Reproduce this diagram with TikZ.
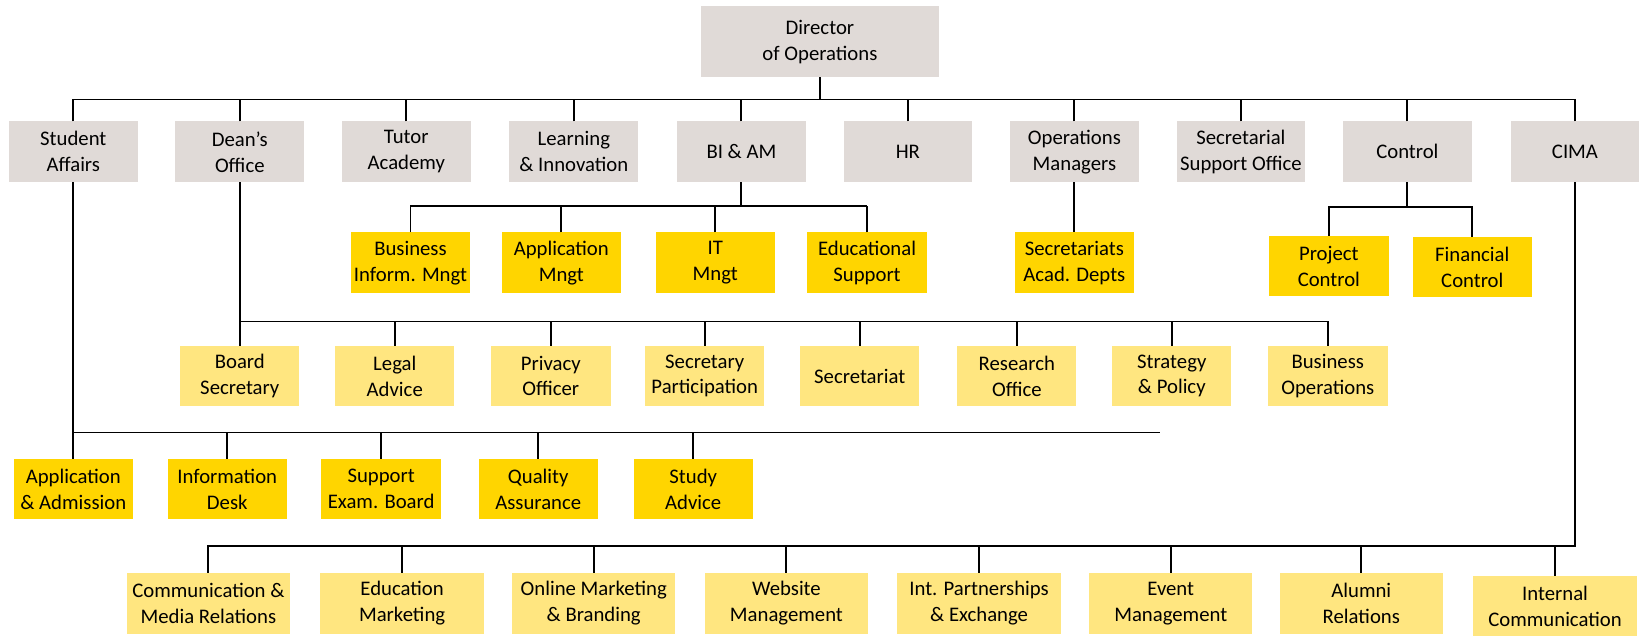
\documentclass[tikz,border=0pt]{standalone}
\usepackage{fontspec}
\setmainfont{Carlito}
\usetikzlibrary{positioning}
\usetikzlibrary{calc}
\definecolor{unitgray}{HTML}{E0DAD7}
\definecolor{deptyellow}{HTML}{FFD500}
\definecolor{teamyellow}{HTML}{FFE680}
\newcommand{\unitW}{61.5pt}
\newcommand{\unitH}{29pt}
\newcommand{\deptW}{57pt}
\newcommand{\commW}{78pt}
\tikzset{unit/.style={
		rectangle,
		fill=unitgray,
		inner sep = 0pt,
		outer sep = 0pt,
		minimum width=\unitW,
		minimum height=\unitH,
		align=center,
		font=\fontsize{9.9}{12.4}\selectfont,
	}
}
\tikzset{dept/.style={
		unit,
		fill=deptyellow,
		minimum width=\deptW,
	}
}
\tikzset{team/.style={
		unit,
		fill=teamyellow,
		minimum width=\deptW,
	}
}
\tikzset{link/.style={
		draw,
		line width=0.9pt,
	}
}
\begin{document}
\begin{tikzpicture}[x=0.5pt, y=-0.5pt]

\useasboundingbox (0,0) rectangle (1569,607);

% top
\node[unit, minimum width=113.5pt, minimum height=34pt] (dir) at (783,40) {Director\\of Operations};

% units
\node[unit] (sa)   at (70,145)   {Student\\Affairs};
\node[unit] (dean) at (229,145)  {Dean’s\\Office};
\node[unit] (tut)  at (388,145)  {Tutor\\Academy};
\node[unit] (li)   at (548,145)  {Learning\\\& Innovation};
\node[unit] (biam) at (708,145)  {BI \& AM};
\node[unit] (hr)   at (867,145)  {HR};
\node[unit] (om)   at (1026,145) {Operations\\Managers};
\node[unit] (sso)  at (1185,145) {Secretarial\\Support Office};
\node[unit] (ctrl) at (1344,145) {Control};
\node[unit] (cima) at (1504,145) {CIMA};

\coordinate (topbus) at (0,95);
\draw[link] (dir.south) -- (dir.south|-topbus);
\draw[link] (sa.north|-topbus) -- (cima.north|-topbus);
\draw[link] (sa.north) -- (sa.north|-topbus) (dean.north) -- (dean.north|-topbus)
	(tut.north) -- (tut.north|-topbus) (li.north) -- (li.north|-topbus)
	(biam.north) -- (biam.north|-topbus) (hr.north) -- (hr.north|-topbus)
	(om.north) -- (om.north|-topbus) (sso.north) -- (sso.north|-topbus)
	(ctrl.north) -- (ctrl.north|-topbus) (cima.north) -- (cima.north|-topbus);

% BI & AM
\node[dept] (bim)  at (392,251) {Business\\Inform. Mngt};
\node[dept] (appm) at (536,251) {Application\\Mngt};
\node[dept] (itm)  at (683,251) {IT\\Mngt};
\node[dept] (edsu) at (828,251) {Educational\\Support};

\coordinate (bibus) at (0,197);
\draw[link] (biam.south) -- (biam.south|-bibus);
\draw[link] (bim.north|-bibus) -- (edsu.north|-bibus);
\draw[link] (bim.north) -- (bim.north|-bibus) (appm.north) -- (appm.north|-bibus)
	(itm.north) -- (itm.north|-bibus) (edsu.north) -- (edsu.north|-bibus);

% operations managers
\node[dept] (secad) at (1026,251) {Secretariats\\Acad. Depts};
\draw[link] (om.south) -- (secad.north);

% control
\node[dept] (pc) at (1269,254) {Project\\Control};
\node[dept] (fc) at (1406,255) {Financial\\Control};

\coordinate (ctrlbus) at (0,198);
\draw[link] (ctrl.south) -- (ctrl.south|-ctrlbus);
\draw[link] (pc.north) |- (fc.north|-ctrlbus) -- (fc.north);

% dean's office
\node[team] (bs)  at (229,359)  {Board\\Secretary};
\node[team] (la)  at (377,359)  {Legal\\Advice};
\node[team] (po)  at (526,359)  {Privacy\\Officer};
\node[team] (sp)  at (673,359)  {Secretary\\Participation};
\node[team] (sec) at (821,359)  {Secretariat};
\node[team] (ro)  at (971,359)  {Research\\Office};
\node[team] (stp) at (1119,359) {Strategy\\\& Policy};
\node[team] (bo)  at (1268,359) {Business\\Operations};

\coordinate (deanbus) at (0,307);
\draw[link] (dean.south) -- (bs.north);
\draw[link] (bs.north|-deanbus) -- (bo.north|-deanbus);
\draw[link] (la.north) -- (la.north|-deanbus) (po.north) -- (po.north|-deanbus)
	(sp.north) -- (sp.north|-deanbus) (sec.north) -- (sec.north|-deanbus)
	(ro.north) -- (ro.north|-deanbus) (stp.north) -- (stp.north|-deanbus)
	(bo.north) -- (bo.north|-deanbus);

% student affairs
\node[dept] (aa)  at (70,467)  {Application\\\& Admission};
\node[dept] (id)  at (217,467) {Information\\Desk};
\node[dept] (seb) at (364,467) {Support\\Exam. Board};
\node[dept] (qa)  at (514,467) {Quality\\Assurance};
\node[dept] (sta) at (662,467) {Study\\Advice};

\coordinate (sabus) at (1108,413);
\draw[link] (sa.south) -- (aa.north);
\draw[link] (aa.north|-sabus) -- (sabus);
\draw[link] (id.north) -- (id.north|-sabus) (seb.north) -- (seb.north|-sabus)
	(qa.north) -- (qa.north|-sabus) (sta.north) -- (sta.north|-sabus);

% CIMA
\node[team, minimum width=\commW] (cmr)  at (199,576)  {Communication \&\\Media Relations};
\node[team, minimum width=\commW] (edm)  at (384,576)  {Education\\Marketing};
\node[team, minimum width=\commW] (omb)  at (567,576)  {Online Marketing\\\& Branding};
\node[team, minimum width=\commW] (web)  at (751,576)  {Website\\Management};
\node[team, minimum width=\commW] (ipe)  at (935,576)  {Int. Partnerships\\\& Exchange};
\node[team, minimum width=\commW] (evm)  at (1118,576) {Event\\Management};
\node[team, minimum width=\commW] (alu)  at (1300,576) {Alumni\\Relations};
\node[team, minimum width=\commW] (intc) at (1485,579) {Internal\\Communication};

\coordinate (cimabus) at (0,521);
\draw[link] (cima.south) -- (cima.south|-cimabus) -- (cmr.north|-cimabus) -- (cmr.north);
\draw[link] (edm.north) -- (edm.north|-cimabus) (omb.north) -- (omb.north|-cimabus)
	(web.north) -- (web.north|-cimabus) (ipe.north) -- (ipe.north|-cimabus)
	(evm.north) -- (evm.north|-cimabus) (alu.north) -- (alu.north|-cimabus)
	(intc.north) -- (intc.north|-cimabus);

\end{tikzpicture}
\end{document}
